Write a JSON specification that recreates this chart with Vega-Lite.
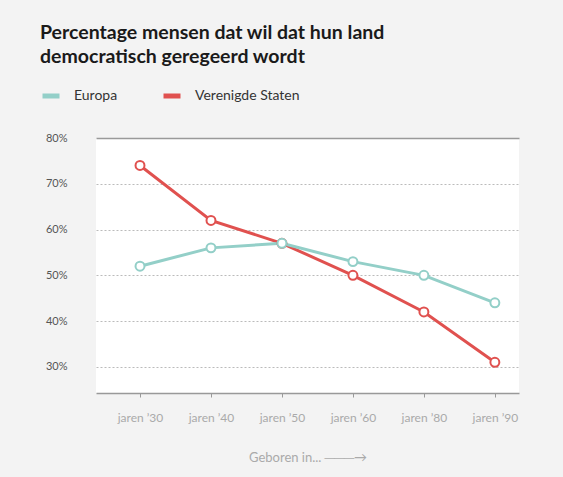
{
  "$schema": "https://vega.github.io/schema/vega-lite/v6.json",
  "width": 423,
  "height": 255,
  "autosize": {"type": "none"},
  "padding": {"left": 96, "top": 138, "right": 44, "bottom": 84},
  "background": "#f3f3f3",
  "config": {
    "font": "Lato",
    "view": {"fill": "white", "stroke": null}
  },
  "title": {
    "text": ["Percentage mensen dat wil dat hun land", "democratisch geregeerd wordt"],
    "anchor": "start",
    "frame": "group",
    "dx": -56,
    "fontSize": 19.5,
    "fontWeight": "bold",
    "color": "#1a1a1a",
    "lineHeight": 24,
    "offset": 18
  },
  "data": {
    "values": [
      {"idx": 0, "cohort": "jaren '30", "regio": "Verenigde Staten", "pct": 74},
      {"idx": 1, "cohort": "jaren '40", "regio": "Verenigde Staten", "pct": 62},
      {"idx": 2, "cohort": "jaren '50", "regio": "Verenigde Staten", "pct": 57},
      {"idx": 3, "cohort": "jaren '60", "regio": "Verenigde Staten", "pct": 50},
      {"idx": 4, "cohort": "jaren '80", "regio": "Verenigde Staten", "pct": 42},
      {"idx": 5, "cohort": "jaren '90", "regio": "Verenigde Staten", "pct": 31},
      {"idx": 0, "cohort": "jaren '30", "regio": "Europa", "pct": 52},
      {"idx": 1, "cohort": "jaren '40", "regio": "Europa", "pct": 56},
      {"idx": 2, "cohort": "jaren '50", "regio": "Europa", "pct": 57},
      {"idx": 3, "cohort": "jaren '60", "regio": "Europa", "pct": 53},
      {"idx": 4, "cohort": "jaren '80", "regio": "Europa", "pct": 50},
      {"idx": 5, "cohort": "jaren '90", "regio": "Europa", "pct": 44}
    ]
  },
  "encoding": {
    "x": {
      "field": "idx",
      "type": "quantitative",
      "scale": {"domain": [-0.62, 5.34], "nice": false, "zero": false},
      "axis": {
        "title": "Geboren in...   ───→",
        "titleColor": "#aaaaaa",
        "titleFontSize": 13,
        "titleFontWeight": "normal",
        "titlePadding": 28,
        "values": [0, 1, 2, 3, 4, 5],
        "labelExpr": "['jaren \u201930', 'jaren \u201940', 'jaren \u201950', 'jaren \u201960', 'jaren \u201980', 'jaren \u201990'][datum.value]",
        "labelAngle": 0,
        "labelColor": "#aaaaaa",
        "labelFontSize": 12,
        "labelPadding": 15,
        "domainColor": "#999999",
        "domainWidth": 1.5,
        "tickColor": "#999999",
        "tickSize": 4,
        "tickWidth": 1,
        "grid": false
      }
    },
    "y": {
      "field": "pct",
      "type": "quantitative",
      "scale": {"domain": [24.3, 80], "nice": false, "zero": false},
      "axis": {
        "title": null,
        "values": [30, 40, 50, 60, 70, 80],
        "labelExpr": "datum.value + '%'",
        "labelColor": "#555555",
        "labelFontSize": 11,
        "labelPadding": 29,
        "domain": false,
        "ticks": false,
        "grid": true,
        "gridColor": {"condition": {"test": "datum.value == 80", "value": "#999999"}, "value": "#bbbbbb"},
        "gridDash": {"condition": {"test": "datum.value == 80", "value": []}, "value": [2, 2]},
        "gridWidth": {"condition": {"test": "datum.value == 80", "value": 1.5}, "value": 1}
      }
    },
    "color": {
      "field": "regio",
      "type": "nominal",
      "scale": {"domain": ["Europa", "Verenigde Staten"], "range": ["#93cfc8", "#e0514f"]},
      "legend": {
        "title": null,
        "orient": "none",
        "direction": "horizontal",
        "legendX": -56,
        "legendY": -53,
        "symbolType": "stroke",
        "symbolStrokeWidth": 5,
        "symbolSize": 289,
        "labelFontSize": 14,
        "labelColor": "#333333",
        "labelOffset": 12,
        "columnPadding": 35
      }
    }
  },
  "layer": [
    {"mark": {"type": "line", "strokeWidth": 3}},
    {"mark": {"type": "point", "shape": "circle", "filled": true, "fill": "white", "strokeWidth": 2, "size": 80, "opacity": 1}, "encoding": {"stroke": {"field": "regio", "type": "nominal", "legend": null, "scale": {"domain": ["Europa", "Verenigde Staten"], "range": ["#93cfc8", "#e0514f"]}}}}
  ]
}
